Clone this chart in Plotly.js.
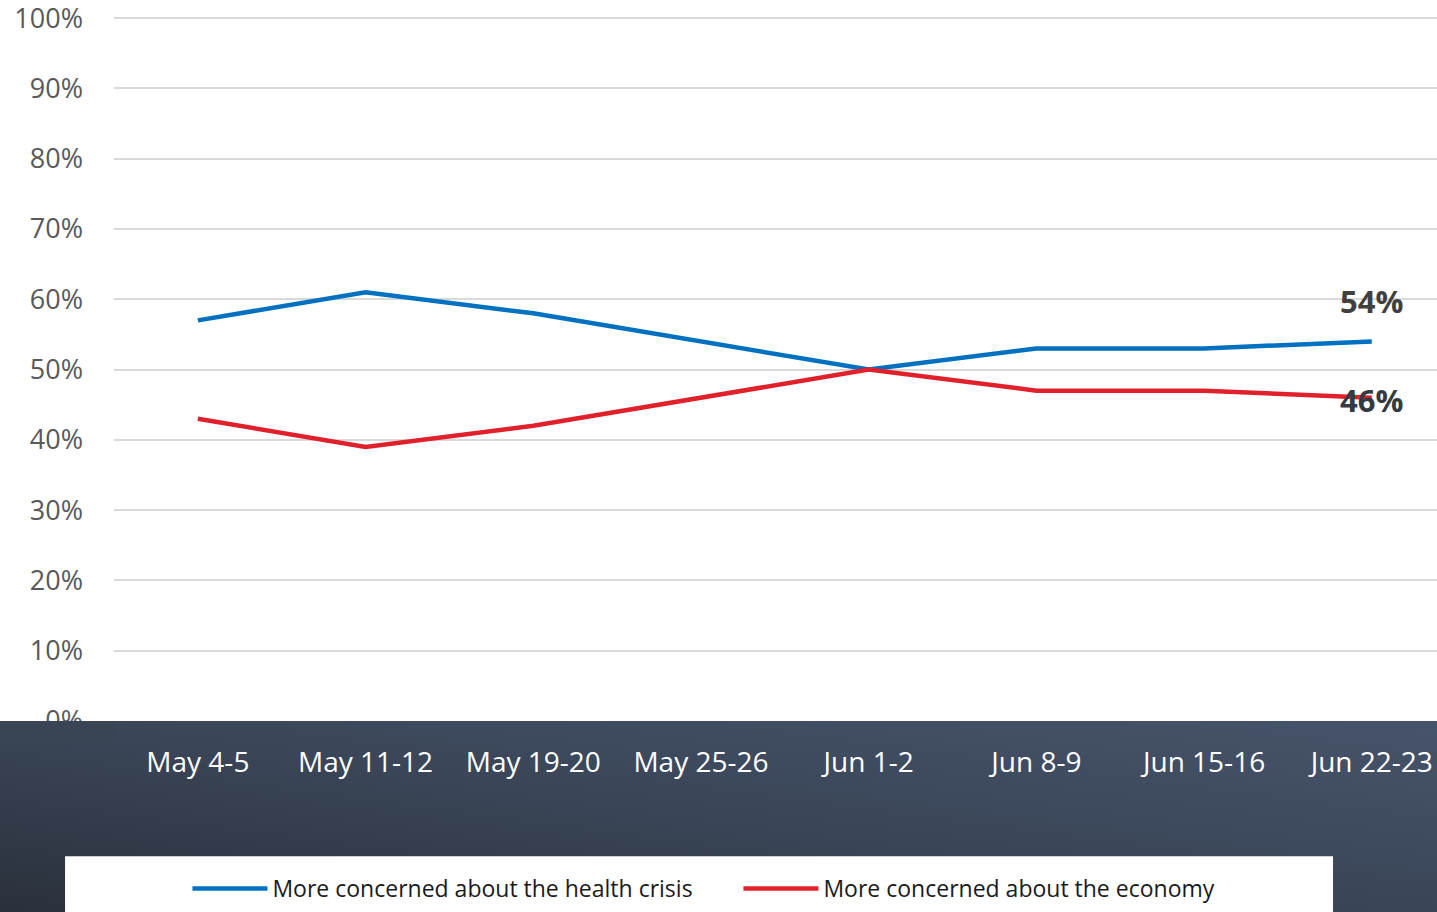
<!DOCTYPE html>
<html><head><meta charset="utf-8">
<script src="https://cdn.plot.ly/plotly-3.0.1.min.js"></script>
<style>
html,body{margin:0;padding:0;width:1437px;height:912px;overflow:hidden;}
body{background:#fff;position:relative;}
#band{position:absolute;left:0;top:721px;width:1437px;height:191px;background:linear-gradient(to top right,#2a313c 0%,#3a4557 50%,#46546b 100%);}
#chart{position:absolute;left:0;top:0;width:1437px;height:912px;}
</style></head>
<body>
<div id="band"></div>
<div id="chart"></div>
<script>
const categories = ["May 4-5","May 11-12","May 19-20","May 25-26","Jun 1-2","Jun 8-9","Jun 15-16","Jun 22-23"];
const healthCrisis = [57, 61, 58, 54, 50, 53, 53, 54];
const economy = [43, 39, 42, 46, 50, 47, 47, 46];
const seriesNames = ["More concerned about the health crisis","More concerned about the economy"];
const yTicks = [0,10,20,30,40,50,60,70,80,90,100];

const font = "Segoe UI, 'Open Sans', 'Noto Sans', sans-serif";
const traces = [
  {x: categories, y: healthCrisis, name: seriesNames[0], type:'scatter', mode:'lines',
   line:{color:'#0070c0', width:4.5}},
  {x: categories, y: economy, name: seriesNames[1], type:'scatter', mode:'lines',
   line:{color:'#e0202a', width:4.5}}
];
const last = categories.length - 1;
const layout = {
  width:1437, height:912,
  margin:{l:114, r:0, t:16, b:191, pad:0, autoexpand:false},
  paper_bgcolor:'rgba(0,0,0,0)', plot_bgcolor:'rgba(0,0,0,0)',
  font:{family:font},
  showlegend:true,
  legend:{orientation:'h', x:0.0555, xanchor:'left', y:-0.2375, yanchor:'middle',
    bgcolor:'rgba(0,0,0,0)', font:{size:23, color:'#1a1a1a', family:font},
    itemwidth:75, tracegroupgap:0, entrywidthmode:'pixels', entrywidth:461},
  xaxis:{type:'category', range:[-0.5, 7.389], showgrid:false, zeroline:false, showline:false,
    ticks:'', tickfont:{size:28, color:'#ffffff', family:font}, ticklabelstandoff:22, fixedrange:true},
  yaxis:{range:[0,100.3], tickvals:yTicks, ticktext:yTicks.map(v=>v+'%'),
    showgrid:true, gridcolor:'#d9d9d9', gridwidth:2, zeroline:false, showline:false,
    ticks:'', tickfont:{size:27, color:'#595959', family:font}, ticklabelstandoff:30,
    ticklabeloverflow:'allow', fixedrange:true},
  shapes:[
    {type:'rect', xref:'paper', yref:'paper', x0:-0.037, x1:0.9214, y0:-0.192, y1:-0.4,
     fillcolor:'#ffffff', line:{width:0}, layer:'below'},
    {type:'rect', xref:'paper', yref:'paper', x0:-0.0862, x1:0, y0:0, y1:-0.03,
     fillcolor:'#394455', line:{width:0}, layer:'above'}
  ],
  annotations:[
    {x:categories[last], y:healthCrisis[last], text:'<b>'+healthCrisis[last]+'%</b>', showarrow:false,
     yshift:40, font:{size:31, color:'#404040', family:font}},
    {x:categories[last], y:economy[last], text:'<b>'+economy[last]+'%</b>', showarrow:false,
     yshift:-2, font:{size:31, color:'#333a44', family:font}}
  ]
};
Plotly.newPlot('chart', traces, layout, {displayModeBar:false, staticPlot:true});
</script>
</body></html>
